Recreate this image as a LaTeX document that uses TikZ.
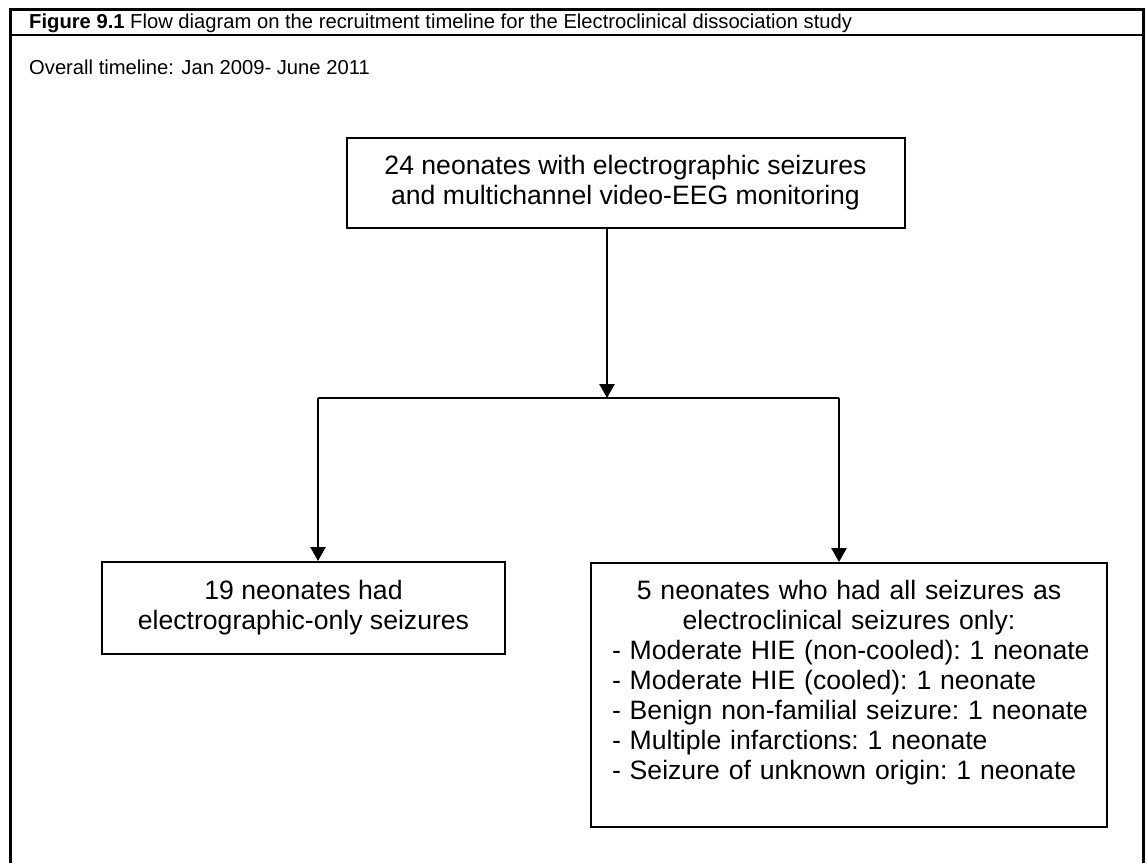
\documentclass[tikz,border=0pt]{standalone}
\usepackage{fontspec}
\setmainfont{Liberation Sans}
\usetikzlibrary{arrows.meta, positioning}

\begin{document}
\begin{tikzpicture}[
  x=1pt, y=-1pt,
  font=\fontsize{26.6}{30}\selectfont\frenchspacing,
  head/.style={anchor=base west, inner sep=0pt, font=\fontsize{20.2}{24}\selectfont},
  box/.style={draw, line width=2pt, align=center, inner sep=0pt},
  arr/.style={-{Triangle[length=14pt, width=15pt]}, line width=2.6pt},
  link/.style={line width=2pt}
]
  \useasboundingbox (0,0) rectangle (1147,863);
  % table frame
  \draw[line width=3pt] (10,863) -- (10,9) -- (1143,9) -- (1143,863);
  \draw[line width=2pt] (10,35) -- (1143,35);
  \node[head] (title) at (29,28.5) {\textbf{Figure 9.1} Flow diagram on the recruitment timeline for the Electroclinical dissociation study};
  \node[head] (period) at (29,74) {Overall timeline: Jan 2009- June 2011};

  \node[box, minimum width=558pt, minimum height=90pt] (all) at (625.5,183)
    {24 neonates with electrographic seizures\\ and multichannel video-EEG monitoring};
  \node[box, minimum width=403pt, minimum height=92pt] (egonly) at (303.5,608)
    {19 neonates had\\ electrographic-only seizures};
  \node[box, anchor=north, text width=474pt, text height=36pt, text depth=228pt,
    inner xsep=21pt] (ecall) at (849,562)
    {\centering 5 neonates who had all seizures as\\ electroclinical seizures only:\par
     \raggedright\begin{tabular}[t]{@{}l@{}}
       - Moderate HIE (non-cooled): 1 neonate\\
       - Moderate HIE (cooled): 1 neonate\\
       - Benign non-familial seizure: 1 neonate\\
       - Multiple infarctions: 1 neonate\\
       - Seizure of unknown origin: 1 neonate
     \end{tabular}\par};

  \coordinate (split) at (607,398);
  \coordinate (jl) at (318,398);
  \coordinate (jr) at (839,398);
  \draw[arr] (split |- all.south) -- (split);
  \draw[link] (jl) -- (jr);
  \draw[arr] (jl) -- (jl |- egonly.north);
  \draw[arr] (jr) -- (jr |- ecall.north);
\end{tikzpicture}
\end{document}
